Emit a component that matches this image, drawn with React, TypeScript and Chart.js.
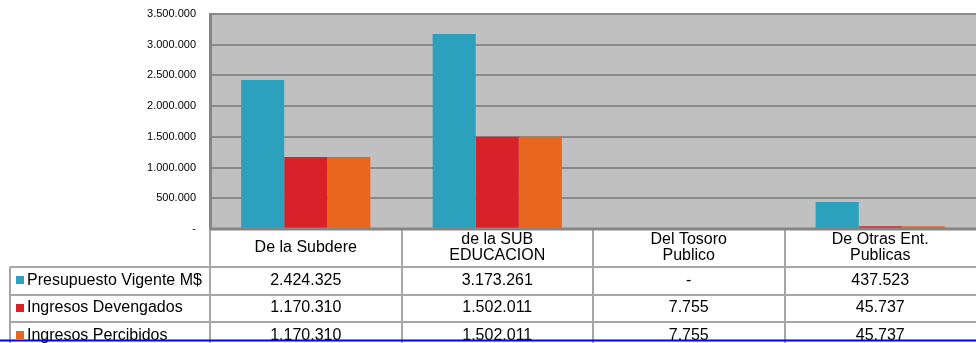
import React, { useEffect, useRef } from "react";
import { Chart, registerables } from "chart.js";

Chart.register(...registerables);

// Category headers (one entry per line of text)
const categories: string[][] = [
  ["De la Subdere"],
  ["de la SUB", "EDUCACION"],
  ["Del Tosoro", "Publico"],
  ["De Otras Ent.", "Publicas"],
];

const seriesNames = ["Presupuesto Vigente M$", "Ingresos Devengados", "Ingresos Percibidos"];
const seriesColors = ["#2ca1be", "#d92129", "#e9661f"];

const presupuesto = [2424325, 3173261, 0, 437523];
const devengados = [1170310, 1502011, 7755, 45737];
const percibidos = [1170310, 1502011, 7755, 45737];

const yMax = 3500000;
const yStep = 500000;

const FONT = "'Liberation Sans', Arial, sans-serif";

function fmt(v: number): string {
  if (v === 0) return "-";
  return String(Math.round(v)).replace(/\B(?=(\d{3})+(?!\d))/g, ".");
}

const tablePlugin = {
  id: "dataTable",
  beforeDraw(chart: any) {
    const { ctx, chartArea } = chart;
    ctx.save();
    ctx.fillStyle = "#c0c0c0";
    ctx.fillRect(chartArea.left, chartArea.top, chartArea.right - chartArea.left, chartArea.bottom - chartArea.top);
    ctx.restore();
  },
  afterDraw(chart: any) {
    const { ctx, chartArea } = chart;
    const xs = chart.scales.x;
    const W = chart.width;
    const H = chart.height;
    const left = chartArea.left;
    const right = chartArea.right;
    const bottom = chartArea.bottom;
    const catW = (right - left) / categories.length;
    const headerBottom = bottom + 38;
    const rowH = 27.5;
    const legendLeft = 10;
    const rows = [presupuesto, devengados, percibidos];

    ctx.save();
    // table grid
    ctx.strokeStyle = "#a6a6a6";
    ctx.lineWidth = 2;
    ctx.beginPath();
    for (let i = 0; i <= categories.length - 1; i++) {
      const x = Math.round(left + i * catW);
      ctx.moveTo(x, bottom);
      ctx.lineTo(x, H);
    }
    ctx.moveTo(legendLeft, headerBottom);
    ctx.lineTo(legendLeft, H);
    for (let r = 0; r < rows.length; r++) {
      const y = Math.round(headerBottom + r * rowH);
      ctx.moveTo(legendLeft, y);
      ctx.lineTo(W, y);
    }
    ctx.stroke();

    // axis line along the bottom of the plot
    ctx.strokeStyle = "#858585";
    ctx.lineWidth = 3;
    ctx.beginPath();
    ctx.moveTo(left, bottom);
    ctx.lineTo(right, bottom);
    ctx.stroke();

    // header labels
    ctx.fillStyle = "#000";
    ctx.font = `16px ${FONT}`;
    ctx.textAlign = "center";
    ctx.textBaseline = "middle";
    categories.forEach((lines, i) => {
      const cx = xs.getPixelForValue(i);
      const mid = (bottom + headerBottom) / 2;
      const lh = 16;
      lines.forEach((ln, k) => {
        const y = mid + (k - (lines.length - 1) / 2) * lh;
        ctx.fillText(ln, cx, y);
      });
    });

    // rows: legend key + values
    rows.forEach((vals, r) => {
      const cy = headerBottom + r * rowH + rowH / 2 - 0.5;
      ctx.fillStyle = seriesColors[r];
      ctx.fillRect(16, Math.round(cy - 4), 8, 8);
      ctx.fillStyle = "#000";
      ctx.textAlign = "left";
      ctx.fillText(seriesNames[r], 27, cy);
      ctx.textAlign = "center";
      vals.forEach((v, i) => {
        ctx.fillText(fmt(v), xs.getPixelForValue(i), cy);
      });
    });

    // bottom rule
    ctx.strokeStyle = "#0000f0";
    ctx.lineWidth = 2;
    ctx.beginPath();
    ctx.moveTo(0, H - 2.5);
    ctx.lineTo(W, H - 2.5);
    ctx.stroke();
    ctx.restore();
  },
};

export default function App() {
  const ref = useRef<HTMLCanvasElement | null>(null);

  useEffect(() => {
    if (!ref.current) return;
    const chart = new Chart(ref.current, {
      type: "bar",
      data: {
        labels: categories.map((c) => c.join(" ")),
        datasets: [
          { label: seriesNames[0], data: presupuesto, backgroundColor: seriesColors[0] },
          { label: seriesNames[1], data: devengados, backgroundColor: seriesColors[1] },
          { label: seriesNames[2], data: percibidos, backgroundColor: seriesColors[2] },
        ],
      },
      options: {
        animation: false,
        responsive: false,
        maintainAspectRatio: false,
        layout: { padding: { top: 14, right: 0, bottom: 114, left: 0 } },
        datasets: { bar: { barPercentage: 1, categoryPercentage: 0.675 } },
        plugins: { legend: { display: false }, tooltip: { enabled: false } },
        scales: {
          x: { display: false },
          y: {
            min: 0,
            max: yMax,
            afterFit(scale: any) {
              scale.width = 210;
              scale.paddingTop = 0;
              scale.paddingBottom = 0;
            },
            ticks: {
              stepSize: yStep,
              padding: 14,
              color: "#000",
              font: { family: FONT, size: 11 },
              callback: (v: any) => fmt(Number(v)),
            },
            grid: { color: "#8a8a8a", lineWidth: 2, drawTicks: false },
            border: { display: true, color: "#858585", width: 3 },
          },
        },
      },
      plugins: [tablePlugin],
    });
    return () => chart.destroy();
  }, []);

  return (
    <div style={{ position: "fixed", left: 0, top: 0, width: 976, height: 343, background: "#fff" }}>
      <canvas ref={ref} width={976} height={343} />
    </div>
  );
}
